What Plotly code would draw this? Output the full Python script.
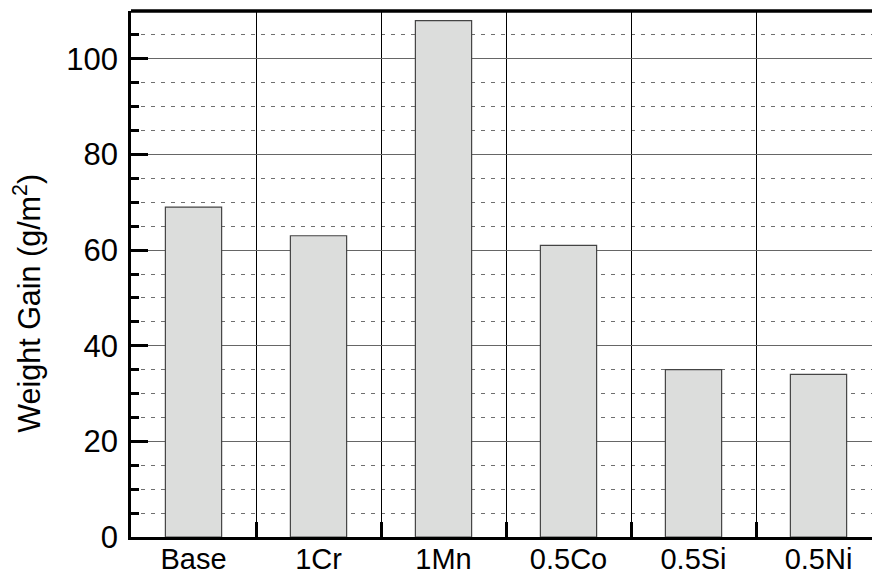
import plotly.graph_objects as go

# Weight gain per alloy variant
alloys = ["Base", "1Cr", "1Mn", "0.5Co", "0.5Si", "0.5Ni"]
weight_gain = [69, 63, 108, 61, 35, 34]

y_ticks = [0, 20, 40, 60, 80, 100]
y_title = "Weight Gain (g/m<sup>2</sup>)"

font_family = "Liberation Sans, Arial, sans-serif"

fig = go.Figure()
fig.add_trace(go.Bar(
    x=alloys,
    y=weight_gain,
    marker=dict(color="#dcdddc", line=dict(color="#444444", width=1.2)),
    showlegend=False,
))

fig.update_layout(
    width=872,
    height=578,
    margin=dict(l=131, r=0, t=11, b=41, autoexpand=False),
    paper_bgcolor="white",
    plot_bgcolor="white",
    bargap=0.55,
    font=dict(family=font_family, size=30, color="black"),
)

fig.update_xaxes(
    type="category",
    range=[-0.5, 5.428],
    automargin=False,
    tickson="boundaries",
    ticks="inside",
    ticklen=15,
    tickwidth=2.5,
    tickcolor="black",
    showgrid=True,
    gridcolor="black",
    gridwidth=1,
    showline=True,
    linecolor="black",
    linewidth=2.5,
    tickfont=dict(size=29),
    ticklabelstandoff=-6,
)

fig.update_yaxes(
    range=[0, 110],
    automargin=False,
    tickvals=y_ticks,
    ticks="inside",
    ticklen=17,
    tickwidth=2.5,
    tickcolor="black",
    showgrid=True,
    gridcolor="#666666",
    gridwidth=1.3,
    zeroline=False,
    showline=True,
    linecolor="black",
    linewidth=2.5,
    tickfont=dict(size=31),
    ticklabelstandoff=4,
    minor=dict(
        dtick=5,
        ticks="inside",
        ticklen=8,
        tickwidth=2.5,
        tickcolor="black",
        showgrid=True,
        gridcolor="#6f6f6f",
        gridwidth=1.3,
        griddash="4px,6px",
    ),
)

# Rotated y-axis title, its start placed low beside the axis
fig.add_annotation(
    text=y_title,
    xref="paper", yref="paper",
    x=-0.14, y=0.194,
    xanchor="center", yanchor="bottom",
    textangle=-90,
    showarrow=False,
    font=dict(size=30.5),
)

# Heavy frame line along the top of the plotting area
fig.add_shape(
    type="line", xref="paper", yref="paper",
    x0=0, x1=1, y0=1, y1=1,
    line=dict(color="black", width=3.5),
)

fig.write_html("out.html")
